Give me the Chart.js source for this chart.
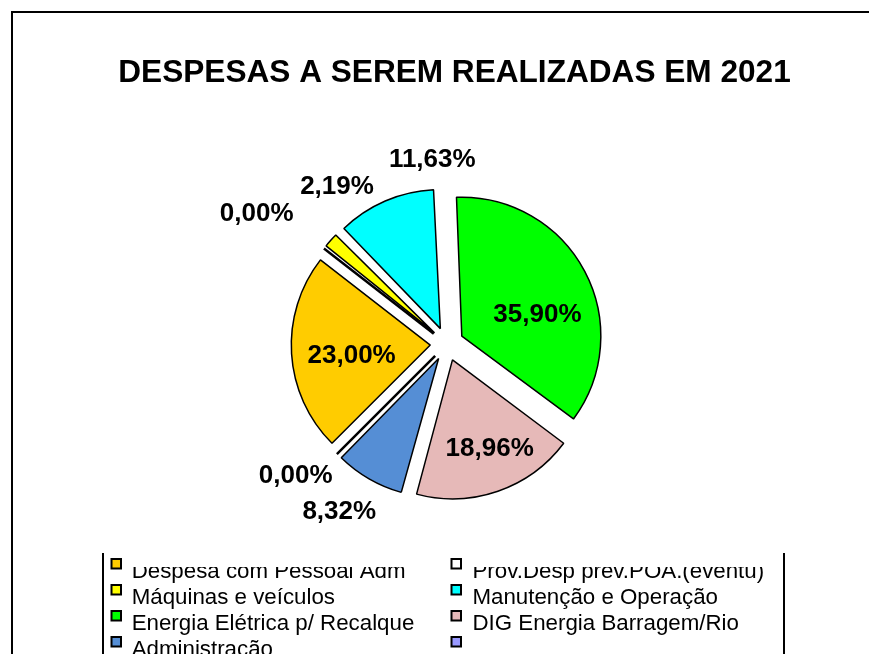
<!DOCTYPE html>
<html>
<head>
<meta charset="utf-8">
<script src="https://cdn.jsdelivr.net/npm/chart.js@4.4.1/dist/chart.umd.min.js"></script>
<style>
	html, body { margin: 0; padding: 0; background: #fff; }
	canvas { display: block; }
</style>
</head>
<body>
<canvas id="chart" width="869" height="654"></canvas>
<script>
const chartTitle = "DESPESAS A SEREM REALIZADAS EM 2021";

const categories = [
	"Despesa com Pessoal Adm",
	"Prov.Desp prev.POA.(eventu)",
	"Máquinas e veículos",
	"Manutenção e Operação",
	"Energia Elétrica p/ Recalque",
	"DIG Energia Barragem/Rio",
	"Administração",
	"",
];

const values = [23.0, 0.0, 2.19, 11.63, 35.9, 18.96, 8.32, 0.0];

const sliceColors = [
	"#FFCC00",
	"#FFFFFF",
	"#FFFF00",
	"#00FFFF",
	"#00FF00",
	"#E6B9B8",
	"#558ED5",
	"#9999FF",
];

// angle of first slice, like the Excel setting
const firstSliceAngle = 225;

// label placement: [degrees turned from slice middle, distance in radii]
const labelPlacement = [
	[-2.5, 0.69],
	[-3.05, 1.666],
	[13.55, 1.39],
	[18.85, 1.342],
	[8.8, 0.688],
	[-3.45, 0.802],
	[2.95, 1.424],
	[4.45, 1.433],
];

const PIE_RADIUS = 139;
const EXPLODE = 67;
const FONT = "'Liberation Sans', Arial, sans-serif";

function pct(v) {
	return v.toFixed(2).replace(".", ",") + "%";
}

const decorations = {
	id: "decorations",
	afterDatasetUpdate: function (chart, args) {
		// keep every exploded slice the same size, like Excel does
		args.meta.data.forEach(function (arc) {
			const circ = arc.endAngle - arc.startAngle;
			const fix = 1 - Math.sin(Math.min(Math.PI, circ));
			arc.outerRadius = PIE_RADIUS - (EXPLODE / 4) * fix;
		});
	},
	beforeDraw: function (chart) {
		const ctx = chart.ctx;
		ctx.save();
		ctx.strokeStyle = "#000";
		ctx.lineWidth = 2;
		ctx.strokeRect(12, 12, 900, 700);
		ctx.restore();
	},
	afterDatasetsDraw: function (chart) {
		const ctx = chart.ctx;
		const meta = chart.getDatasetMeta(0);

		// zero slices are drawn as a single edge
		meta.data.forEach(function (arc, i) {
			if (values[i] !== 0) return;
			const a = arc.startAngle;
			const ox = arc.x + Math.cos(a) * EXPLODE / 4;
			const oy = arc.y + Math.sin(a) * EXPLODE / 4;
			ctx.save();
			ctx.strokeStyle = "#000";
			ctx.lineWidth = 2.5;
			ctx.beginPath();
			ctx.moveTo(ox, oy);
			ctx.lineTo(ox + Math.cos(a) * PIE_RADIUS, oy + Math.sin(a) * PIE_RADIUS);
			ctx.stroke();
			ctx.restore();
		});

		// value labels
		ctx.save();
		ctx.fillStyle = "#000";
		ctx.font = "bold 26px " + FONT;
		ctx.textAlign = "center";
		ctx.textBaseline = "alphabetic";
		meta.data.forEach(function (arc, i) {
			const mid = (arc.startAngle + arc.endAngle) / 2;
			const ang = mid + labelPlacement[i][0] * Math.PI / 180;
			const dist = labelPlacement[i][1] * PIE_RADIUS;
			const x = arc.x + Math.cos(ang) * dist;
			const y = arc.y + Math.sin(ang) * dist;
			ctx.fillText(pct(values[i]), x, y + 9.3);
		});
		ctx.restore();
	},
	afterDraw: function (chart) {
		const ctx = chart.ctx;

		// title
		ctx.save();
		ctx.fillStyle = "#000";
		ctx.font = "bold 31.6px " + FONT;
		ctx.textAlign = "center";
		ctx.fillText(chartTitle, 454.5, 81.5);
		ctx.restore();

		// legend, cut off like in the original
		ctx.save();
		ctx.strokeStyle = "#000";
		ctx.lineWidth = 2;
		ctx.beginPath();
		ctx.moveTo(103, 553);
		ctx.lineTo(103, 660);
		ctx.moveTo(784, 553);
		ctx.lineTo(784, 660);
		ctx.stroke();

		const colX = [111.5, 451.5];
		const textX = [131.7, 472.5];
		const firstBase = 578;
		const rowStep = 26;
		categories.forEach(function (name, i) {
			const col = i % 2;
			const row = Math.floor(i / 2);
			const top = firstBase - 19 + row * rowStep;
			ctx.fillStyle = sliceColors[i];
			ctx.fillRect(colX[col], top, 9.5, 9.5);
			ctx.lineWidth = 2;
			ctx.strokeStyle = "#000";
			ctx.strokeRect(colX[col], top, 9.5, 9.5);
		});

		ctx.beginPath();
		ctx.rect(100, 567, 690, 100);
		ctx.clip();
		ctx.fillStyle = "#000";
		ctx.font = "22.3px " + FONT;
		ctx.textAlign = "left";
		categories.forEach(function (name, i) {
			const col = i % 2;
			const row = Math.floor(i / 2);
			ctx.fillText(name, textX[col], firstBase + row * rowStep);
		});
		ctx.restore();
	},
};

const ctx = document.getElementById("chart").getContext("2d");

const myChart = new Chart(ctx, {
	type: "pie",
	data: {
		labels: categories,
		datasets: [
			{
				data: values,
				backgroundColor: sliceColors,
				borderColor: "#000",
				borderWidth: 1.5,
				offset: EXPLODE,
				hoverOffset: 0,
			},
		],
	},
	options: {
		responsive: false,
		animation: false,
		events: [],
		rotation: firstSliceAngle,
		radius: PIE_RADIUS,
		layout: {
			padding: { left: 147, right: 122, top: 94, bottom: 60 },
		},
		plugins: {
			legend: { display: false },
			title: { display: false },
			tooltip: { enabled: false },
		},
	},
	plugins: [decorations],
});
</script>
</body>
</html>
